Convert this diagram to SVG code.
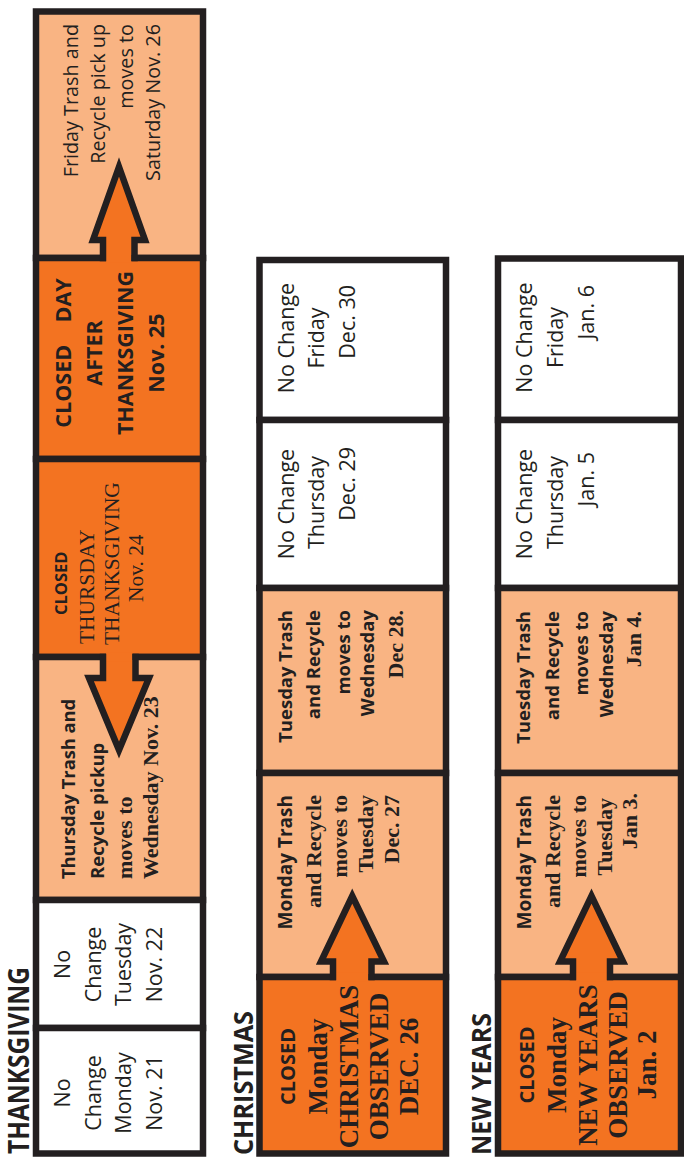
<svg xmlns="http://www.w3.org/2000/svg" width="684" height="1157" viewBox="0 0 684 1157">
<style>
.cell{stroke:#231F20;stroke-width:6.5}
.dk{fill:#F37321}
.lt{fill:#F9B483}
.wh{fill:#FFFFFF}
.s{font-family:"Open Sans","Liberation Sans",sans-serif;fill:#231F20}
.b{font-weight:700}
.f{font-family:"Liberation Serif","Times New Roman",serif;fill:#231F20}
.m{text-anchor:middle}
.e{text-anchor:end}
.st{text-anchor:start}
.arrowFill{fill:#F37321;stroke:none}
.arrowLine{fill:none;stroke:#231F20;stroke-width:6.5;stroke-linejoin:miter;stroke-miterlimit:10}
</style>
<rect width="684" height="1157" fill="#FFFFFF"/>

<!-- titles -->
<g id="titles">
<text class="s b e" font-size="28" transform="translate(29,967) rotate(-90)" textLength="187" lengthAdjust="spacingAndGlyphs">THANKSGIVING</text>
<text class="s b e" font-size="26" transform="translate(253,1011) rotate(-90)" textLength="144" lengthAdjust="spacingAndGlyphs">CHRISTMAS</text>
<text class="s b e" font-size="26" transform="translate(491,1013) rotate(-90)" textLength="142" lengthAdjust="spacingAndGlyphs">NEW YEARS</text>
</g>

<!-- THANKSGIVING column -->
<g id="t-fri">
<rect class="cell lt" x="36" y="11.5" width="167" height="246.5"/>
<text class="s e" font-size="19.8" transform="translate(77.5,24) rotate(-90)">Friday Trash and</text>
<text class="s e" font-size="19.8" transform="translate(105,24) rotate(-90)">Recycle pick up</text>
<text class="s e" font-size="19.8" transform="translate(132.5,24) rotate(-90)">moves to</text>
<text class="s e" font-size="19.8" transform="translate(160,24) rotate(-90)">Saturday Nov. 26</text>
</g>
<g id="t-dayafter">
<rect class="cell dk" x="36" y="258" width="167" height="201"/>
<text class="s b m" font-size="21.5" xml:space="preserve" transform="translate(71,353) rotate(-90)">CLOSED    DAY</text>
<text class="s b m" font-size="21.5" transform="translate(102,353) rotate(-90)">AFTER</text>
<text class="s b m" font-size="21.5" transform="translate(132.5,353) rotate(-90)">THANKSGIVING</text>
<text class="s b m" font-size="21.5" transform="translate(163.5,353) rotate(-90)">Nov. 25</text>
</g>
<g id="t-thu">
<rect class="cell dk" x="36" y="459" width="167" height="198"/>
<text class="s b st" font-size="16.5" transform="translate(67,615) rotate(-90)">CLOSED</text>
<text class="f st" font-size="21.4" transform="translate(94,644) rotate(-90)">THURSDAY</text>
<text class="f st" font-size="21.4" transform="translate(119,645) rotate(-90)">THANKSGIVING</text>
<text class="f st" font-size="21.4" transform="translate(143,602) rotate(-90)">Nov. 24</text>
</g>
<g id="t-wed">
<rect class="cell lt" x="36" y="657" width="167" height="243"/>
<text class="s b st" font-size="18.3" transform="translate(75,879) rotate(-90)">Thursday Trash and</text>
<text class="s b st" font-size="18.5" transform="translate(103.5,879) rotate(-90)">Recycle pickup</text>
<text class="f b st" font-size="22" transform="translate(132,879) rotate(-90)">moves to</text>
<text class="f b st" font-size="22" transform="translate(158,879) rotate(-90)">Wednesday Nov. 23</text>
</g>
<g id="t-tue">
<rect class="cell wh" x="36" y="900" width="167" height="128"/>
<text class="s m" font-size="21.5" transform="translate(70,964.5) rotate(-90)">No</text>
<text class="s m" font-size="21.5" transform="translate(100.5,964.5) rotate(-90)">Change</text>
<text class="s m" font-size="21.5" transform="translate(131,964.5) rotate(-90)">Tuesday</text>
<text class="s m" font-size="21.5" transform="translate(162,964.5) rotate(-90)">Nov. 22</text>
</g>
<g id="t-mon">
<rect class="cell wh" x="36" y="1028" width="167" height="125.5"/>
<text class="s m" font-size="21.5" transform="translate(70,1093) rotate(-90)">No</text>
<text class="s m" font-size="21.5" transform="translate(100.5,1093) rotate(-90)">Change</text>
<text class="s m" font-size="21.5" transform="translate(131,1093) rotate(-90)">Monday</text>
<text class="s m" font-size="21.5" transform="translate(162,1093) rotate(-90)">Nov. 21</text>
</g>

<!-- CHRISTMAS column -->
<g id="c-fri">
<rect class="cell wh" x="259.5" y="260" width="186.5" height="160"/>
<text class="s m" font-size="21.5" transform="translate(293.5,338) rotate(-90)">No Change</text>
<text class="s m" font-size="21.5" transform="translate(324,338) rotate(-90)">Friday</text>
<text class="s e" font-size="21.5" transform="translate(355,285) rotate(-90)">Dec. 30</text>
</g>
<g id="c-thu">
<rect class="cell wh" x="259.5" y="420" width="186.5" height="168"/>
<text class="s m" font-size="21.5" transform="translate(293.5,504) rotate(-90)">No Change</text>
<text class="s m" font-size="21.5" transform="translate(324,502.5) rotate(-90)">Thursday</text>
<text class="s e" font-size="21.5" transform="translate(355,447) rotate(-90)">Dec. 29</text>
</g>
<g id="c-wed">
<rect class="cell lt" x="259.5" y="588" width="186.5" height="185"/>
<text class="s b e" font-size="18.5" transform="translate(291.5,610) rotate(-90)">Tuesday Trash</text>
<text class="s b e" font-size="18.5" transform="translate(320,610) rotate(-90)">and Recycle</text>
<text class="s b e" font-size="18.5" transform="translate(349.5,610) rotate(-90)">moves to</text>
<text class="s b e" font-size="18.5" transform="translate(374,610) rotate(-90)">Wednesday</text>
<text class="f b e" font-size="22" transform="translate(402.5,610) rotate(-90)">Dec 28.</text>
</g>
<g id="c-tue">
<rect class="cell lt" x="259.5" y="773" width="186.5" height="204"/>
<text class="s b e" font-size="19" transform="translate(292,795) rotate(-90)">Monday Trash</text>
<text class="f b e" font-size="22" transform="translate(321,795) rotate(-90)">and Recycle</text>
<text class="f b e" font-size="22" transform="translate(347,795) rotate(-90)">moves to</text>
<text class="f b e" font-size="22" transform="translate(373,795) rotate(-90)">Tuesday</text>
<text class="f b e" font-size="22" transform="translate(398.5,795) rotate(-90)">Dec. 27</text>
</g>
<g id="c-mon">
<rect class="cell dk" x="259.5" y="977" width="186.5" height="176.5"/>
<text class="s b m" font-size="20" transform="translate(295,1066.5) rotate(-90)">CLOSED</text>
<text class="f b m" font-size="27" transform="translate(327,1066.5) rotate(-90)">Monday</text>
<text class="f b m" font-size="27" transform="translate(358,1066.5) rotate(-90)">CHRISTMAS</text>
<text class="f b m" font-size="27" transform="translate(388,1066.5) rotate(-90)">OBSERVED</text>
<text class="f b m" font-size="27" transform="translate(418,1066.5) rotate(-90)">DEC. 26</text>
</g>

<!-- NEW YEARS column -->
<g id="n-fri">
<rect class="cell wh" x="498" y="258.5" width="183" height="161.5"/>
<text class="s m" font-size="21.5" transform="translate(532,337.5) rotate(-90)">No Change</text>
<text class="s m" font-size="21.5" transform="translate(562.5,337.5) rotate(-90)">Friday</text>
<text class="s e" font-size="21.5" transform="translate(593.5,285) rotate(-90)">Jan. 6</text>
</g>
<g id="n-thu">
<rect class="cell wh" x="498" y="420" width="183" height="168"/>
<text class="s m" font-size="21.5" transform="translate(532,504) rotate(-90)">No Change</text>
<text class="s m" font-size="21.5" transform="translate(562.5,502.5) rotate(-90)">Thursday</text>
<text class="s e" font-size="21.5" transform="translate(593.5,452) rotate(-90)">Jan. 5</text>
</g>
<g id="n-wed">
<rect class="cell lt" x="498" y="588" width="183" height="185"/>
<text class="s b e" font-size="18.5" transform="translate(530,611) rotate(-90)">Tuesday Trash</text>
<text class="s b e" font-size="18.5" transform="translate(558.5,611) rotate(-90)">and Recycle</text>
<text class="s b e" font-size="18.5" transform="translate(588,611) rotate(-90)">moves to</text>
<text class="s b e" font-size="18.5" transform="translate(612.5,611) rotate(-90)">Wednesday</text>
<text class="f b e" font-size="22" transform="translate(641,611) rotate(-90)">Jan 4.</text>
</g>
<g id="n-tue">
<rect class="cell lt" x="498" y="773" width="183" height="204"/>
<text class="s b e" font-size="19" transform="translate(530.5,795) rotate(-90)">Monday Trash</text>
<text class="f b e" font-size="22" transform="translate(559.5,795) rotate(-90)">and Recycle</text>
<text class="f b e" font-size="22" transform="translate(585.5,795) rotate(-90)">moves to</text>
<text class="f b e" font-size="22" transform="translate(611.5,798) rotate(-90)">Tuesday</text>
<text class="f b e" font-size="22" transform="translate(637,793) rotate(-90)">Jan 3.</text>
</g>
<g id="n-mon">
<rect class="cell dk" x="498" y="977" width="183" height="176.5"/>
<text class="s b m" font-size="20" transform="translate(533.5,1065) rotate(-90)">CLOSED</text>
<text class="f b m" font-size="27" transform="translate(565.5,1065) rotate(-90)">Monday</text>
<text class="f b m" font-size="27" transform="translate(596.5,1065) rotate(-90)">NEW YEARS</text>
<text class="f b m" font-size="27" transform="translate(626.5,1065) rotate(-90)">OBSERVED</text>
<text class="f b m" font-size="27" transform="translate(655.5,1065) rotate(-90)">Jan. 2</text>
</g>

<!-- connectors (arrows) -->
<g id="connectors">
<g id="arrow-t-up">
<polygon class="arrowFill" points="103,254 103,240 93,240 119,167 145,240 134.5,240 134.5,254"/>
<rect class="arrowFill" x="106" y="253" width="25.5" height="9.5"/>
<polyline class="arrowLine" points="103,261.25 103,240 93,240 119,167 145,240 134.5,240 134.5,261.25"/>
</g>
<g id="arrow-t-down">
<polygon class="arrowFill" points="103,660 103,678 89,678 119,750 149,678 135.5,678 135.5,660"/>
<rect class="arrowFill" x="106" y="652.5" width="26.5" height="9"/>
<polyline class="arrowLine" points="103,653.75 103,678 89,678 119,750 149,678 135.5,678 135.5,653.75"/>
</g>
<g id="arrow-c-up">
<polygon class="arrowFill" points="333,974 333,961.5 321,961.5 352.25,896 384,961.5 371.5,961.5 371.5,974"/>
<rect class="arrowFill" x="336" y="972.5" width="32.5" height="9"/>
<polyline class="arrowLine" points="333,980.25 333,961.5 321,961.5 352.25,896 384,961.5 371.5,961.5 371.5,980.25"/>
</g>
<g id="arrow-n-up">
<polygon class="arrowFill" points="573,974 573,961.5 560,961.5 591.5,896 623,961.5 610,961.5 610,974"/>
<rect class="arrowFill" x="576" y="972.5" width="31" height="9"/>
<polyline class="arrowLine" points="573,980.25 573,961.5 560,961.5 591.5,896 623,961.5 610,961.5 610,980.25"/>
</g>
</g>
</svg>
